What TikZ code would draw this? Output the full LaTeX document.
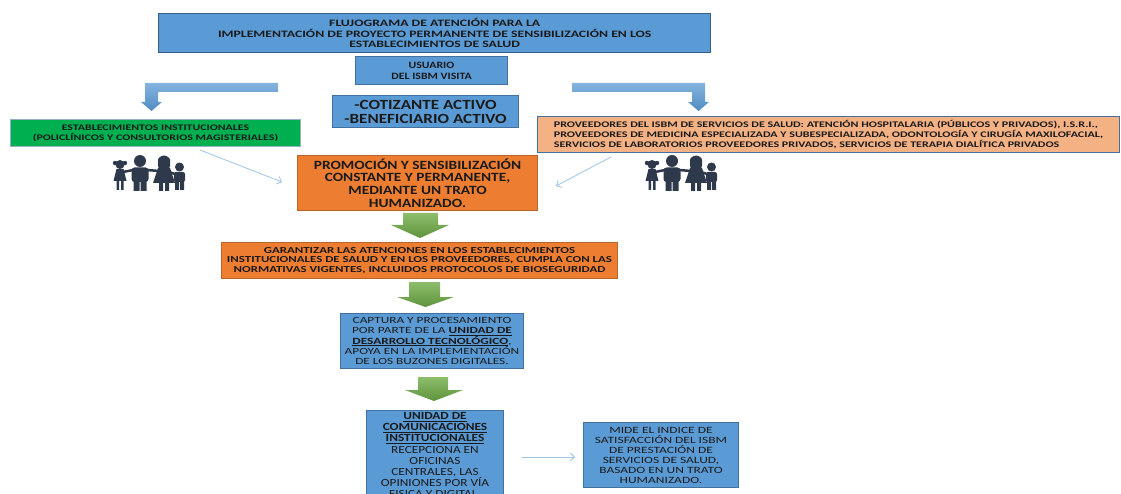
\documentclass[tikz,border=0pt]{standalone}
\usepackage{fontspec}
\setmainfont{Carlito}
\newfontfamily\wideface{Carlito}[FakeStretch = 1.4]
\newfontfamily\midface{Carlito}[FakeStretch = 1.22]
\usetikzlibrary{arrows.meta, positioning}

\definecolor{boxblue}{HTML}{5B9BD5}
\definecolor{edgeblue}{HTML}{41719C}
\definecolor{boxorange}{HTML}{ED7D31}
\definecolor{edgeorange}{HTML}{B8652A}
\definecolor{boxgreen}{HTML}{00B050}
\definecolor{boxpeach}{HTML}{F4B183}
\definecolor{arrowgreen}{HTML}{70AD47}
\definecolor{thinblue}{HTML}{9DC3E6}
\definecolor{people}{HTML}{2E3A4B}
\definecolor{ink}{HTML}{1A1A1A}

\begin{document}
\begin{tikzpicture}[x = 1pt, y = -1pt, > = {Straight Barb[length = 4pt, width = 8pt]},
	flowbox/.style = {draw = edgeblue, line width = 1pt, text = ink, align = center,
		inner sep = 0pt, anchor = north west},
	bluebox/.style = {flowbox, fill = boxblue},
	orangebox/.style = {flowbox, fill = boxorange, draw = edgeorange},
	thinarrow/.style = {thinblue, line width = 0.8pt, ->},
	bentarrow/.style = {top color = boxblue!75, bottom color = boxblue!90!black, draw = none},
	fatarrow/.style = {top color = arrowgreen!80, bottom color = arrowgreen!85!black, draw = none}]

	% Canvas

	\useasboundingbox (0, 0) rectangle (1121, 494);
	\clip (0, 0) rectangle (1121, 494);

	% Title and user

	\node [bluebox, draw = edgeblue!85!black, line width = 1.4pt, minimum width = 552pt,
		minimum height = 39pt, font = \wideface\fontsize{9.8}{10.5}\selectfont\bfseries]
		(title) at (158, 13)
		{FLUJOGRAMA DE ATENCIÓN PARA LA\\
		IMPLEMENTACIÓN DE PROYECTO PERMANENTE DE SENSIBILIZACIÓN EN LOS\\
		ESTABLECIMIENTOS DE SALUD};

	\node [bluebox, minimum width = 152pt, minimum height = 28pt,
		font = \midface\fontsize{9.7}{11}\selectfont\bfseries] (usuario) at (355, 56)
		{USUARIO\\DEL ISBM VISITA};

	\node [bluebox, minimum width = 186pt, minimum height = 32pt,
		font = \midface\fontsize{14}{14}\selectfont\bfseries] (afiliado) at (332, 95)
		{-COTIZANTE ACTIVO\\-BENEFICIARIO ACTIVO};

	% Bent arrows

	\draw [bentarrow] (278, 83) -- (145, 83) -- (145, 102) -- (141, 102) -- (151.5, 111)
		-- (162, 102) -- (158, 102) -- (158, 92) -- (278, 92) -- cycle;
	\draw [bentarrow] (572, 83) -- (705, 83) -- (705, 102) -- (709, 102) -- (698.5, 111)
		-- (688, 102) -- (692, 102) -- (692, 92) -- (572, 92) -- cycle;

	% Providers

	\node [flowbox, fill = boxgreen, draw = thinblue!70!gray, minimum width = 290pt,
		minimum height = 27pt, font = \wideface\fontsize{8.5}{10}\selectfont\bfseries]
		(estab) at (10, 119)
		{ESTABLECIMIENTOS INSTITUCIONALES\\
		(POLICLÍNICOS Y CONSULTORIOS MAGISTERIALES)};

	\node [flowbox, fill = boxpeach, minimum width = 582pt, minimum height = 36pt, align = left,
		font = \wideface\fontsize{8.6}{10}\selectfont\bfseries] (proveedores) at (537, 116)
		{PROVEEDORES DEL ISBM DE SERVICIOS DE SALUD: ATENCIÓN HOSPITALARIA (PÚBLICOS Y PRIVADOS), I.S.R.I.,\\
		PROVEEDORES DE MEDICINA ESPECIALIZADA Y SUBESPECIALIZADA, ODONTOLOGÍA Y CIRUGÍA MAXILOFACIAL,\\
		SERVICIOS DE LABORATORIOS PROVEEDORES PRIVADOS, SERVICIOS DE TERAPIA DIALÍTICA PRIVADOS};

	% Families

	\foreach \px in {109, 641}
	{
		\begin{scope}[shift = {(\px, 155)}, fill = people]
			\fill (11, 9.5) circle (4.5) (6, 8) circle (2.2) (16, 8) circle (2.2);
			\fill (7.5, 14) -- (14.5, 14) -- (17.5, 26) -- (4.5, 26) -- cycle;
			\fill (7.5, 25) rectangle (10, 35) (12, 25) rectangle (14.5, 35);
			\fill (31, 6) circle (6);
			\fill [rounded corners = 3] (22.5, 12.5) rectangle (39.5, 27);
			\fill (24.5, 26) rectangle (30.5, 36) (31.5, 26) rectangle (37.5, 36);
			\fill [rounded corners = 3] (49, 2) rectangle (61, 14);
			\fill (55, 6.5) circle (6);
			\fill (49, 13) -- (61, 13) -- (66, 28) -- (44, 28) -- cycle;
			\fill (50, 27) rectangle (54, 36) (56, 27) rectangle (60, 36);
			\fill (70.5, 12) circle (4.5);
			\fill [rounded corners = 2] (65, 17) rectangle (76, 27);
			\fill (66, 26) rectangle (70, 35) (71, 26) rectangle (75, 35);
			\draw [people, line width = 2.5pt, line cap = round]
				(14, 17) -- (24, 15) (38, 15) -- (50, 16) (60, 17) -- (66, 19);
		\end{scope}
	}

	% Promotion

	\node [orangebox, minimum width = 240pt, minimum height = 55pt,
		font = \midface\fontsize{12.6}{12.7}\selectfont\bfseries] (promocion) at (297, 155)
		{PROMOCIÓN Y SENSIBILIZACIÓN\\CONSTANTE Y PERMANENTE,\\MEDIANTE UN TRATO\\HUMANIZADO.};

	\coordinate (estabout) at (200, 150);
	\coordinate (promoleft) at (282, 182);
	\coordinate (provout) at (611, 157);
	\coordinate (promoright) at (556, 186);

	\draw [thinarrow] (estabout) -- (promoleft);
	\draw [thinarrow] (provout) -- (promoright);

	% Down arrows and steps

	\draw [fatarrow] (403, 213) -- (438, 213) -- (438, 225) -- (449, 225) -- (420, 238)
		-- (391, 225) -- (403, 225) -- cycle;

	\node [orangebox, minimum width = 396pt, minimum height = 36pt,
		font = \wideface\fontsize{9.2}{9.6}\selectfont\bfseries] (garantizar) at (221, 242)
		{GARANTIZAR LAS ATENCIONES EN LOS ESTABLECIMIENTOS\\
		INSTITUCIONALES DE SALUD Y EN LOS PROVEEDORES, CUMPLA CON LAS\\
		NORMATIVAS VIGENTES, INCLUIDOS PROTOCOLOS DE BIOSEGURIDAD};

	\draw [fatarrow] (409, 282) -- (440, 282) -- (440, 297) -- (454, 297) -- (425.5, 307)
		-- (397, 297) -- (409, 297) -- cycle;

	\node [bluebox, minimum width = 183pt, minimum height = 55pt,
		font = \wideface\fontsize{9.5}{10.4}\selectfont] (captura) at (340, 313)
		{CAPTURA Y PROCESAMIENTO\\
		POR PARTE DE LA \underline{\textbf{UNIDAD DE}}\\
		\underline{\textbf{DESARROLLO TECNOLÓGICO}},\\
		APOYA EN LA IMPLEMENTACIÓN\\
		DE LOS BUZONES DIGITALES.};

	\draw [fatarrow] (418, 377) -- (448, 377) -- (448, 390) -- (463, 390) -- (434, 401)
		-- (405, 390) -- (418, 390) -- cycle;

	\node [bluebox, minimum width = 137pt, inner ysep = 2pt,
		font = \midface\fontsize{10.9}{11.2}\selectfont] (unidad) at (366, 410)
		{\underline{\textbf{UNIDAD DE}}\\
		\underline{\textbf{COMUNICACIONES}}\\
		\underline{\textbf{INSTITUCIONALES}}\\
		RECEPCIONA EN\\OFICINAS\\CENTRALES, LAS\\OPINIONES POR VÍA\\FISICA Y DIGITAL.};

	\node [bluebox, minimum width = 155pt, minimum height = 65pt,
		font = \wideface\fontsize{9.6}{10}\selectfont] (mide) at (583, 422)
		{MIDE EL INDICE DE\\SATISFACCIÓN DEL ISBM\\DE PRESTACIÓN DE\\SERVICIOS DE SALUD,\\
		BASADO EN UN TRATO\\HUMANIZADO.};

	\coordinate (unidadout) at (522, 457);
	\coordinate (mideleft) at (575, 457);
	\draw [thinarrow] (unidadout) -- (mideleft);

\end{tikzpicture}
\end{document}
